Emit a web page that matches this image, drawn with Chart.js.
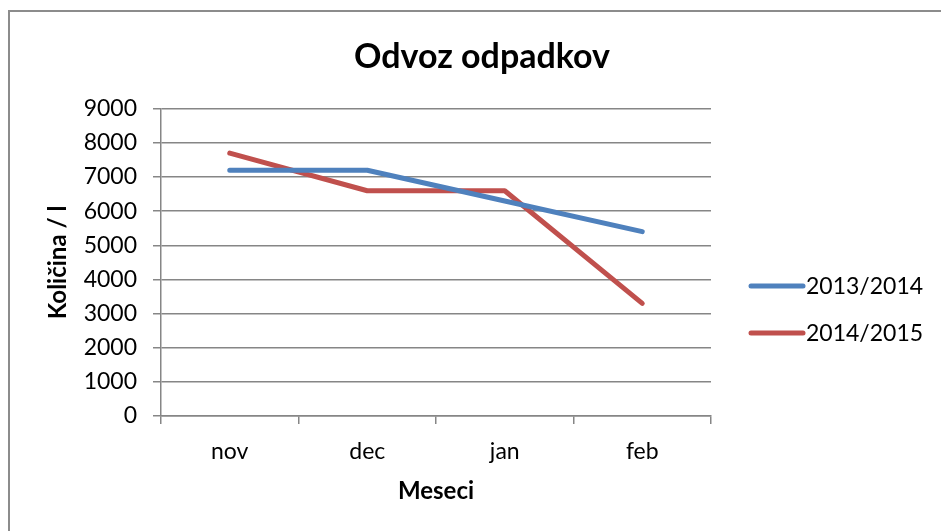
<!DOCTYPE html>
<html>
<head>
<meta charset="utf-8">
<title>Odvoz odpadkov</title>
<script src="https://cdn.jsdelivr.net/npm/chart.js@4.4.1/dist/chart.umd.min.js"></script>
<style>
  html, body { margin:0; padding:0; background:#fff; overflow:hidden; width:941px; height:531px; }
  #frame { position:absolute; left:8px; top:10px; width:1000px; height:600px;
           border-left:2px solid #8c8c8c; border-top:2px solid #8c8c8c; }
  #chart { position:absolute; left:0; top:0; }
</style>
</head>
<body>
<div id="frame"></div>
<canvas id="chart" width="964" height="550"></canvas>
<script>
// data
const months = ['nov', 'dec', 'jan', 'feb'];
const season1314 = [7200, 7200, 6300, 5400];
const season1415 = [7700, 6600, 6600, 3300];
const seriesNames = ['2013/2014', '2014/2015'];
const seriesColors = ['#4F81BD', '#C0504D'];

const FONT = 'Lato, "Open Sans", sans-serif';
const GRID = '#868686';

// legend drawn like Excel: a thick line then the text
const lineLegend = {
  id: 'lineLegend',
  afterDraw(chart){
    const ctx = chart.ctx;
    const x0 = chart.chartArea.right + 40;
    const yStart = 286;
    ctx.save();
    chart.data.datasets.forEach((ds, i)=>{
      const y = yStart + i*47;
      ctx.strokeStyle = ds.borderColor;
      ctx.lineWidth = 5;
      ctx.lineCap = 'round';
      ctx.beginPath(); ctx.moveTo(x0, y); ctx.lineTo(x0+52, y); ctx.stroke();
      ctx.fillStyle = '#000';
      ctx.font = '23px ' + FONT;
      ctx.textBaseline = 'middle';
      ctx.textAlign = 'left';
      ctx.fillText(ds.label, x0+55, y+1);
    });
    ctx.restore();
  }
};

new Chart(document.getElementById('chart'), {
  type: 'line',
  data: {
    labels: months,
    datasets: [
      { label: seriesNames[0], data: season1314, borderColor: seriesColors[0], backgroundColor: seriesColors[0] },
      { label: seriesNames[1], data: season1415, borderColor: seriesColors[1], backgroundColor: seriesColors[1] }
    ]
  },
  options: {
    responsive: false,
    animation: false,
    layout: { padding: { left: 0, right: 0, top: 0, bottom: 30 } },
    elements: {
      line: { borderWidth: 5, tension: 0, borderCapStyle: 'round', borderJoinStyle: 'round' },
      point: { radius: 0, hoverRadius: 0 }
    },
    plugins: {
      legend: { display: false },
      tooltip: { enabled: false },
      title: {
        display: true,
        text: 'Odvoz odpadkov',
        color: '#000',
        font: { family: FONT, size: 34, weight: 'bold' },
        padding: { top: 37, bottom: 31 }
      }
    },
    scales: {
      x: {
        offset: true,
        grid: { offset: true, drawOnChartArea: false, color: GRID, lineWidth: 1.5, tickLength: 8 },
        border: { color: GRID, width: 1.5 },
        ticks: { color: '#000', font: { family: FONT, size: 23 }, padding: 14, maxRotation: 0 },
        title: { display: true, text: 'Meseci', color: '#000',
                 font: { family: FONT, size: 24, weight: 'bold' }, padding: { top: 0, bottom: 14 } },
        afterFit(scale){ scale.height = 104; }
      },
      y: {
        min: 0,
        max: 9000,
        ticks: { stepSize: 1000, color: '#000', font: { family: FONT, size: 23 }, padding: 16,
                 callback: v => String(v) },
        grid: { color: GRID, lineWidth: 1.5, tickLength: 8 },
        border: { color: GRID, width: 1.5 },
        title: { display: true, text: 'Količina / l', color: '#000',
                 font: { family: FONT, size: 24, weight: 'bold' }, padding: { top: 44, bottom: 0 } },
        afterFit(scale){ scale.width = 161; }
      },
      // empty axis on the right keeps room for the legend
      room: {
        type: 'linear',
        position: 'right',
        min: 0,
        max: 9000,
        grid: { display: false },
        border: { display: false },
        ticks: { display: false },
        afterFit(scale){ scale.width = 253; }
      }
    }
  },
  plugins: [lineLegend]
});
</script>
</body>
</html>
